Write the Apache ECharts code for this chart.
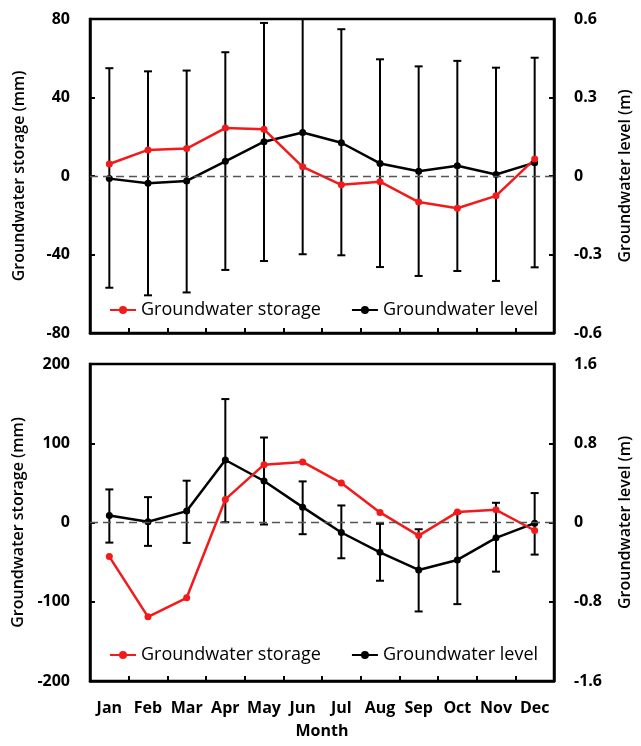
<!DOCTYPE html>
<html lang="en">
<head>
    <meta charset="UTF-8">
    <title>Groundwater storage and level</title>
    <script src="https://cdn.jsdelivr.net/npm/echarts@6/dist/echarts.min.js"></script>
    <style>
        body { margin: 0; background: #fff; }
        #main { width: 641px; height: 746px; }
    </style>
</head>
<body>
<div id="main"></div>
<script>
    var months = ['Jan', 'Feb', 'Mar', 'Apr', 'May', 'Jun', 'Jul', 'Aug', 'Sep', 'Oct', 'Nov', 'Dec'];

    // top panel
    var storageTop = [6.1, 13.3, 14.0, 24.4, 23.8, 4.7, -4.5, -2.9, -13.3, -16.4, -10.1, 8.6];
    var levelTop = [-0.010, -0.028, -0.019, 0.056, 0.131, 0.166, 0.127, 0.048, 0.018, 0.039, 0.006, 0.051];
    var levelTopHigh = [0.412, 0.400, 0.403, 0.473, 0.585, 0.631, 0.561, 0.446, 0.419, 0.440, 0.414, 0.452];
    var levelTopLow = [-0.427, -0.456, -0.445, -0.359, -0.325, -0.299, -0.303, -0.348, -0.382, -0.363, -0.401, -0.349];

    // bottom panel
    var storageBot = [-43, -119, -95, 29.1, 73, 76.4, 49.8, 12.7, -16.5, 13.1, 16.0, -10.1];
    var levelBot = [0.071, 0.007, 0.115, 0.631, 0.419, 0.155, -0.101, -0.301, -0.479, -0.378, -0.155, -0.007];
    var levelBotHigh = [0.334, 0.256, 0.422, 1.246, 0.858, 0.415, 0.172, -0.013, -0.068, 0.094, 0.199, 0.297];
    var levelBotLow = [-0.203, -0.236, -0.206, 0.003, -0.020, -0.118, -0.361, -0.588, -0.898, -0.824, -0.496, -0.324];

    var FONT = 'Open Sans';
    var RED = '#f21a1a';

    function errData(low, high) {
        return months.map(function (m, i) { return [i, low[i], high[i]]; });
    }

    // error bar drawing
    function errRender(params, api) {
        var x = api.value(0);
        var top = api.coord([x, api.value(2)]);
        var bot = api.coord([x, api.value(1)]);
        var w = 4;
        var st = { stroke: '#000', lineWidth: 2 };
        return {
            type: 'group',
            children: [
                { type: 'line', shape: { x1: top[0], y1: top[1], x2: bot[0], y2: bot[1] }, style: st },
                { type: 'line', shape: { x1: top[0] - w, y1: top[1], x2: top[0] + w, y2: top[1] }, style: st },
                { type: 'line', shape: { x1: bot[0] - w, y1: bot[1], x2: bot[0] + w, y2: bot[1] }, style: st }
            ]
        };
    }

    function xAxisCfg(idx, showLabel) {
        return {
            type: 'category',
            gridIndex: idx,
            data: months,
            boundaryGap: true,
            axisLine: { show: true, onZero: false, lineStyle: { color: '#000', width: 2.5 } },
            axisTick: { show: true, inside: true, length: 5, lineStyle: { color: '#000', width: 2 } },
            axisLabel: {
                show: showLabel, interval: 0, margin: 19,
                color: '#000', fontFamily: FONT, fontWeight: 'bold', fontSize: 16
            },
            name: showLabel ? 'Month' : '',
            nameLocation: 'middle',
            nameGap: 42,
            nameTextStyle: { color: '#000', fontFamily: FONT, fontWeight: 'bold', fontSize: 16 }
        };
    }

    function yAxisCfg(idx, pos, min, max, interval, name) {
        return {
            type: 'value',
            gridIndex: idx,
            position: pos,
            min: min, max: max, interval: interval,
            splitLine: { show: false },
            axisLine: { show: true, lineStyle: { color: '#000', width: 2.5 } },
            axisTick: { show: true, inside: true, length: 5, lineStyle: { color: '#000', width: 2 } },
            axisLabel: { margin: 20, color: '#000', fontFamily: FONT, fontWeight: 'bold', fontSize: 16 },
            name: name,
            nameLocation: 'middle',
            nameGap: 63,
            nameTextStyle: { color: '#000', fontFamily: FONT, fontWeight: 600, fontSize: 16 }
        };
    }

    var legendStyle = {
        itemWidth: 26, itemHeight: 10, itemGap: 30,
        textStyle: { color: '#000', fontFamily: FONT, fontSize: 18 },
        data: ['Groundwater storage', 'Groundwater level']
    };

    var myChart = echarts.init(document.getElementById('main'));
    var option = {
        animation: false,
        backgroundColor: '#fff',
        grid: [
            { left: 90, right: 80, top: 19, height: 314, show: true, borderColor: '#000', borderWidth: 2.5 },
            { left: 90, right: 80, top: 364, height: 317, show: true, borderColor: '#000', borderWidth: 2.5 }
        ],
        legend: [
            Object.assign({ left: 104, top: 296 }, legendStyle),
            Object.assign({ left: 104, top: 641 }, legendStyle)
        ],
        xAxis: [xAxisCfg(0, false), xAxisCfg(1, true)],
        yAxis: [
            yAxisCfg(0, 'left', -80, 80, 40, 'Groundwater storage (mm)'),
            yAxisCfg(0, 'right', -0.6, 0.6, 0.3, 'Groundwater level (m)'),
            yAxisCfg(1, 'left', -200, 200, 100, 'Groundwater storage (mm)'),
            yAxisCfg(1, 'right', -1.6, 1.6, 0.8, 'Groundwater level (m)')
        ],
        series: [
            {
                type: 'custom', name: 'err top', xAxisIndex: 0, yAxisIndex: 1, clip: true,
                renderItem: errRender, encode: { x: 0, y: [1, 2] },
                data: errData(levelTopLow, levelTopHigh), z: 2
            },
            {
                type: 'line', name: 'Groundwater level', xAxisIndex: 0, yAxisIndex: 1,
                data: levelTop, symbol: 'circle', symbolSize: 7,
                itemStyle: { color: '#000' }, lineStyle: { color: '#000', width: 2.5 }, z: 3
            },
            {
                type: 'line', name: 'Groundwater storage', xAxisIndex: 0, yAxisIndex: 0,
                data: storageTop, symbol: 'circle', symbolSize: 7,
                itemStyle: { color: RED }, lineStyle: { color: RED, width: 2.5 }, z: 3,
                markLine: {
                    silent: true, symbol: 'none', label: { show: false },
                    lineStyle: { color: '#555', type: [8, 5], width: 1.3 },
                    data: [{ yAxis: 0 }]
                }
            },
            {
                type: 'custom', name: 'err bottom', xAxisIndex: 1, yAxisIndex: 3, clip: true,
                renderItem: errRender, encode: { x: 0, y: [1, 2] },
                data: errData(levelBotLow, levelBotHigh), z: 2
            },
            {
                type: 'line', name: 'Groundwater level', xAxisIndex: 1, yAxisIndex: 3,
                data: levelBot, symbol: 'circle', symbolSize: 7,
                itemStyle: { color: '#000' }, lineStyle: { color: '#000', width: 2.5 }, z: 3
            },
            {
                type: 'line', name: 'Groundwater storage', xAxisIndex: 1, yAxisIndex: 2,
                data: storageBot, symbol: 'circle', symbolSize: 7,
                itemStyle: { color: RED }, lineStyle: { color: RED, width: 2.5 }, z: 3,
                markLine: {
                    silent: true, symbol: 'none', label: { show: false },
                    lineStyle: { color: '#555', type: [8, 5], width: 1.3 },
                    data: [{ yAxis: 0 }]
                }
            }
        ]
    };
    myChart.setOption(option);
</script>
</body>
</html>
